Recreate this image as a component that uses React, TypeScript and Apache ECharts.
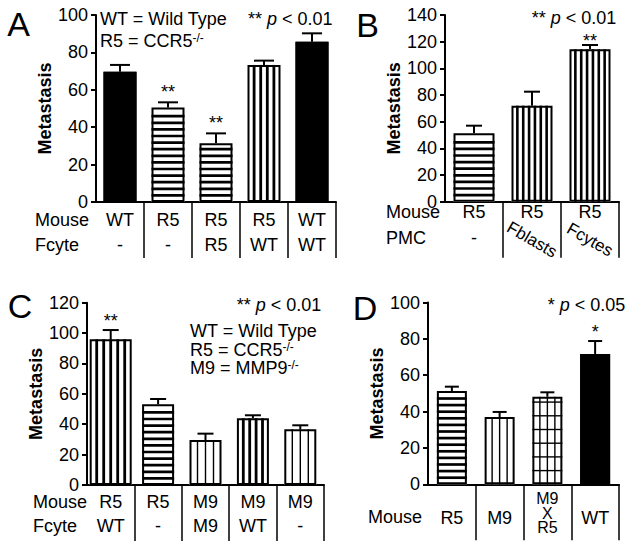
import React, { useEffect, useRef } from 'react';
import * as echarts from 'echarts';

const FONT = '"Liberation Sans", Arial, Helvetica, sans-serif';

// ---------- Panel A ----------
const aMouse = ['WT', 'R5', 'R5', 'R5', 'WT'];
const aFcyte = ['-', '-', 'R5', 'WT', 'WT'];
const aMean = [69.7, 50.6, 31.4, 73.3, 85.7];
const aErr = [3.6, 2.7, 5.3, 2.3, 4.5];
const aStars = ['', '**', '**', '', ''];
const aRows = ['Mouse', 'Fcyte'];

// ---------- Panel B ----------
const bMouse = ['R5', 'R5', 'R5'];
const bPmc = ['-', 'Fblasts', 'Fcytes'];
const bMean = [51.3, 72, 114.3];
const bErr = [5.7, 10.5, 3.2];
const bStars = ['', '', '**'];
const bRows = ['Mouse', 'PMC'];

// ---------- Panel C ----------
const cMouse = ['R5', 'R5', 'M9', 'M9', 'M9'];
const cFcyte = ['WT', '-', 'M9', 'WT', '-'];
const cMean = [95.9, 53.1, 29.6, 43.9, 36.7];
const cErr = [6.1, 3.5, 4.2, 2.0, 2.6];
const cStars = ['**', '', '', '', ''];
const cRows = ['Mouse', 'Fcyte'];

// ---------- Panel D ----------
const dMouse = ['R5', 'M9', 'M9\nX\nR5', 'WT'];
const dMean = [51.3, 37, 48.2, 71.7];
const dErr = [2.4, 2.8, 2.4, 7.1];
const dStars = ['', '', '', '*'];
const dRows = ['Mouse'];

const panelLetters = ['A', 'B', 'C', 'D'];
const yMax = [100, 140, 120, 100];

// ---------- styles ----------
const aPat = ['solid', 'h', 'h', 'v', 'solid'];
const bPat = ['h', 'vd', 'vd'];
const cPat = ['v', 'h', 'thin', 'v', 'thin'];
const dPat = ['h', 'thin', 'grid', 'solid'];

const aW = [33, 33, 33, 33, 33];
const bW = [41, 41, 41];
const cW = [42, 32, 32, 32, 32];
const dW = [30, 30, 30, 30];

const PATTERNS: Record<string, any> = {
  h: { h: { period: 6.6, t: 2.7 } },
  v: { v: { period: 6.6, t: 2.8 } },
  vd: { v: { period: 5.8, t: 2.6 } },
  thin: { v: { period: 7.4, t: 1.4 } },
  grid: { v: { period: 7.5, t: 1.4 }, h: { period: 13.7, t: 1.4 } },
};

function makeBarRender(widths: number[], pats: string[]) {
  return function (params: any, api: any) {
    const idx = params.dataIndex;
    const cat = api.value(0);
    const val = api.value(1);
    const b = api.coord([cat, 0]);
    const t = api.coord([cat, val]);
    const w = widths[idx];
    const x0 = b[0] - w / 2;
    const yTop = t[1];
    const yBot = b[1];
    const h = yBot - yTop;
    const pat = pats[idx];
    const children: any[] = [];
    children.push({
      type: 'rect',
      shape: { x: x0, y: yTop, width: w, height: h },
      style: { fill: pat === 'solid' ? '#000' : '#fff' },
    });
    const spec = PATTERNS[pat];
    if (spec && spec.v) {
      const n = Math.max(1, Math.round(w / spec.v.period));
      for (let k = 1; k < n; k++) {
        const cx = x0 + (k * w) / n;
        children.push({
          type: 'rect',
          shape: { x: cx - spec.v.t / 2, y: yTop, width: spec.v.t, height: h },
          style: { fill: '#000' },
        });
      }
    }
    if (spec && spec.h) {
      for (let y = yBot - spec.h.period; y > yTop + spec.h.t; y -= spec.h.period) {
        children.push({
          type: 'rect',
          shape: { x: x0, y: y - spec.h.t / 2, width: w, height: spec.h.t },
          style: { fill: '#000' },
        });
      }
    }
    children.push({
      type: 'rect',
      shape: { x: x0 + 1, y: yTop + 1, width: w - 2, height: h - 2 },
      style: { fill: 'none', stroke: '#000', lineWidth: 2 },
    });
    return { type: 'group', children };
  };
}

function makeErrRender(capW: number, stars: string[], starGap: number) {
  return function (params: any, api: any) {
    const cat = api.value(0);
    const val = api.value(1);
    const err = api.value(2);
    const p0 = api.coord([cat, val]);
    const p1 = api.coord([cat, val + err]);
    const children: any[] = [
      { type: 'line', shape: { x1: p0[0], y1: p0[1], x2: p1[0], y2: p1[1] }, style: { stroke: '#000', lineWidth: 2 } },
      { type: 'line', shape: { x1: p1[0] - capW / 2, y1: p1[1], x2: p1[0] + capW / 2, y2: p1[1] }, style: { stroke: '#000', lineWidth: 2 } },
    ];
    const s = stars[params.dataIndex];
    if (s) {
      children.push({
        type: 'text',
        x: p1[0],
        y: p1[1] - starGap,
        style: { text: s, fill: '#000', font: `18px ${FONT}`, textAlign: 'center', textVerticalAlign: 'middle', align: 'center', verticalAlign: 'middle' },
      });
    }
    return { type: 'group', children };
  };
}

const RICH = {
  i: { fontStyle: 'italic', fontSize: 18, fontFamily: FONT, fill: '#000', color: '#000' },
  s: { fontSize: 12, fontFamily: FONT, verticalAlign: 'top', fill: '#000', color: '#000' },
};

function txt(x: number, y: number, text: string, size = 18, align = 'left', weight = 'normal') {
  return {
    type: 'text',
    x,
    y,
    silent: true,
    style: {
      text,
      fill: '#000',
      font: `${weight} ${size}px ${FONT}`,
      textAlign: align,
      textVerticalAlign: 'middle',
      align,
      verticalAlign: 'middle',
      rich: RICH,
    },
  };
}

function xAxisBase(gridIndex: number, data: string[], label: any) {
  return {
    gridIndex,
    type: 'category',
    data,
    boundaryGap: true,
    axisLine: { show: true, lineStyle: { color: '#000', width: 2 } },
    axisTick: { show: true, length: 56, interval: (i: number) => i > 0, lineStyle: { color: '#000', width: 1.5 } },
    axisLabel: { interval: 0, color: '#000', fontSize: 18, fontFamily: FONT, ...label },
    splitLine: { show: false },
  };
}

function xAxisOverlay(gridIndex: number, data: string[], label: any) {
  return {
    gridIndex,
    type: 'category',
    data,
    position: 'bottom',
    axisLine: { show: false },
    axisTick: { show: false },
    splitLine: { show: false },
    axisLabel: { interval: 0, color: '#000', fontSize: 18, fontFamily: FONT, ...label },
  };
}

function yAxisBase(gridIndex: number, max: number, nameGap: number) {
  return {
    gridIndex,
    type: 'value',
    min: 0,
    max,
    interval: 20,
    axisLine: { show: true, lineStyle: { color: '#000', width: 2 } },
    axisTick: { show: true, length: 5, lineStyle: { color: '#000', width: 2 } },
    axisLabel: { color: '#000', fontSize: 18, fontFamily: FONT, margin: 8 },
    splitLine: { show: false },
    name: 'Metastasis',
    nameLocation: 'middle',
    nameGap,
    nameTextStyle: { color: '#000', fontSize: 18, fontWeight: 'bold', fontFamily: FONT },
  };
}

function barSeries(xi: number, yi: number, mean: number[], widths: number[], pats: string[]) {
  return {
    type: 'custom',
    xAxisIndex: xi,
    yAxisIndex: yi,
    renderItem: makeBarRender(widths, pats),
    data: mean.map((v, i) => [i, v]),
    encode: { x: 0, y: 1 },
    z: 2,
  };
}

function errSeries(xi: number, yi: number, mean: number[], err: number[], capW: number, stars: string[], gap: number) {
  return {
    type: 'custom',
    xAxisIndex: xi,
    yAxisIndex: yi,
    renderItem: makeErrRender(capW, stars, gap),
    data: mean.map((v, i) => [i, v, err[i]]),
    encode: { x: 0, y: 1 },
    z: 3,
  };
}

const isStack = (s: string) => s.indexOf('\n') >= 0;

const option: any = {
  animation: false,
  backgroundColor: '#fff',
  grid: [
    { left: 96, top: 15, width: 240, height: 187, containLabel: false, outerBoundsMode: 'none' },
    { left: 445, top: 15, width: 174, height: 186.7, containLabel: false, outerBoundsMode: 'none' },
    { left: 87, top: 302.7, width: 237, height: 182.3, containLabel: false, outerBoundsMode: 'none' },
    { left: 428, top: 302.5, width: 191, height: 181.8, containLabel: false, outerBoundsMode: 'none' },
  ],
  xAxis: [
    // 0: A
    xAxisBase(0, aMouse, {
      formatter: (_v: string, i: number) => `${aMouse[i]}\n${aFcyte[i]}`,
      lineHeight: 25,
      verticalAlign: 'top',
      margin: 5.5,
    }),
    // 1: B
    xAxisBase(1, bMouse, {
      formatter: (_v: string, i: number) => (bPmc[i] === '-' ? `${bMouse[i]}\n${bPmc[i]}` : bMouse[i]),
      lineHeight: 26,
      verticalAlign: 'top',
      margin: -2.5,
    }),
    // 2: B rotated PMC labels
    xAxisOverlay(1, bMouse, {
      fontSize: 17,
      rotate: -30,
      align: 'center',
      verticalAlign: 'middle',
      margin: 38,
      formatter: (_v: string, i: number) => (bPmc[i] === '-' ? '' : bPmc[i]),
    }),
    // 3: C
    xAxisBase(2, cMouse, {
      formatter: (_v: string, i: number) => `${cMouse[i]}\n${cFcyte[i]}`,
      lineHeight: 24,
      verticalAlign: 'top',
      margin: 5,
    }),
    // 4: D single-line labels
    xAxisBase(3, dMouse, {
      formatter: (_v: string, i: number) => (isStack(dMouse[i]) ? '' : dMouse[i]),
      verticalAlign: 'middle',
      margin: 34,
    }),
    // 5: D stacked label
    xAxisOverlay(3, dMouse, {
      formatter: (_v: string, i: number) => (isStack(dMouse[i]) ? dMouse[i] : ''),
      fontSize: 16,
      lineHeight: 14.5,
      verticalAlign: 'middle',
      margin: 29,
    }),
  ],
  yAxis: [yAxisBase(0, yMax[0], 40), yAxisBase(1, yMax[1], 36), yAxisBase(2, yMax[2], 30), yAxisBase(3, yMax[3], 32)],
  series: [
    barSeries(0, 0, aMean, aW, aPat),
    errSeries(0, 0, aMean, aErr, 20, aStars, 10),
    barSeries(1, 1, bMean, bW, bPat),
    errSeries(1, 1, bMean, bErr, 16, bStars, 4.5),
    barSeries(3, 2, cMean, cW, cPat),
    errSeries(3, 2, cMean, cErr, 16, cStars, 9.5),
    barSeries(4, 3, dMean, dW, dPat),
    errSeries(4, 3, dMean, dErr, 14, dStars, 9),
  ],
  graphic: [
    txt(18.5, 24, panelLetters[0], 34, 'center'),
    txt(367.5, 25, panelLetters[1], 34, 'center'),
    txt(20, 306, panelLetters[2], 34, 'center'),
    txt(365, 307.5, panelLetters[3], 34, 'center'),

    txt(100, 18.5, 'WT = Wild Type'),
    txt(100, 40.5, 'R5 = CCR5{s|-/-}'),
    txt(248, 18.5, '** {i|p} < 0.01'),

    txt(531.7, 18, '** {i|p} < 0.01'),

    txt(236.7, 305, '** {i|p} < 0.01'),
    txt(190, 331, 'WT = Wild Type'),
    txt(190, 349.5, 'R5 = CCR5{s|-/-}'),
    txt(190, 368, 'M9 = MMP9{s|-/-}'),

    txt(547.7, 305, '* {i|p} < 0.05'),

    txt(35, 220, aRows[0]),
    txt(35, 245, aRows[1]),
    txt(386, 212, bRows[0]),
    txt(386, 238, bRows[1]),
    txt(33, 502, cRows[0]),
    txt(33, 526, cRows[1]),
    txt(368, 517, dRows[0]),
  ],
};

export default function App() {
  const ref = useRef<HTMLDivElement>(null);
  useEffect(() => {
    const chart = echarts.init(ref.current as HTMLDivElement, undefined, { renderer: 'svg' });
    chart.setOption(option);
    return () => chart.dispose();
  }, []);
  return (
    <div
      ref={ref}
      style={{ position: 'absolute', left: 0, top: 0, width: 629, height: 552, background: '#fff' }}
    />
  );
}
